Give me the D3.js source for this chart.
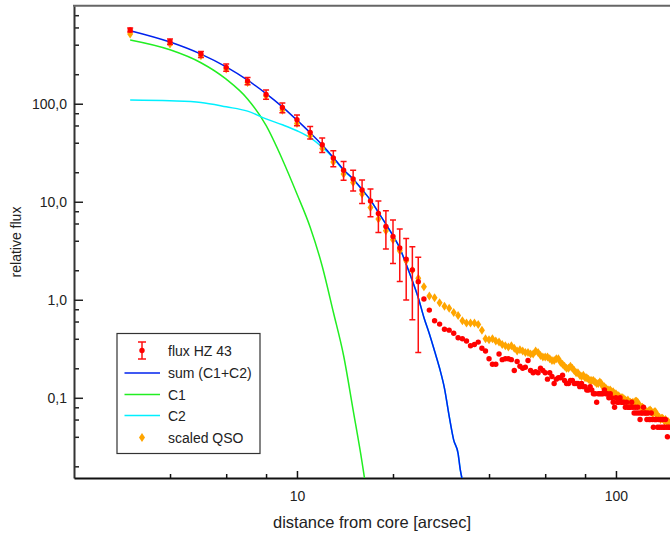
<!DOCTYPE html>
<html>
<head>
<meta charset="utf-8">
<script src="https://cdn.jsdelivr.net/npm/d3@7"></script>
<style>
    body { margin: 0; background: #fff; }
    svg { display: block; font-family: "Liberation Sans", Arial, sans-serif; }
    .axis text { font-size: 14px; fill: #222; }
</style>
</head>
<body>
<svg class="chart"></svg>
<script>
// radial profile, sampled every arcsec
const radius = [3, 4, 5, 6, 7, 8, 9, 10, 11, 12, 13, 14, 15, 16, 17, 18, 19, 20, 21, 22, 23, 24,
    25, 26, 27, 28, 29, 30, 31, 32, 33, 34, 35, 36, 37, 38, 39, 40, 41, 42, 43, 44, 45, 46, 47, 48, 49,
    50, 51, 52, 53, 54, 55, 56, 57, 58, 59, 60, 61, 62, 63, 64, 65, 66, 67, 68, 69, 70, 71, 72, 73, 74,
    75, 76, 77, 78, 79, 80, 81, 82, 83, 84, 85, 86, 87, 88, 89, 90, 91, 92, 93, 94, 95, 96, 97, 98, 99,
    100, 101, 102, 103, 104, 105, 106, 107, 108, 109, 110, 111, 112, 113, 114, 115, 116, 117, 118, 119,
    120, 121, 122, 123, 124, 125, 126, 127, 128, 129, 130, 131, 132, 133, 134, 135, 136, 137, 138, 139,
    140, 141, 142, 143, 144, 145, 146, 147];

const hzFlux = [565, 432, 321, 235, 171, 124, 91.7, 68.7, 50.9, 38.1, 27.9, 21.0, 17.1, 13.2, 10.2, 7.6, 5.6, 4.43, 3.37, 2.60, 2.02, 1.53,
    1.02, 0.785, 0.61, 0.565, 0.50, 0.49, 0.455, 0.41, 0.40, 0.38, 0.34, 0.35, 0.37, 0.32, 0.30, 0.25, 0.22, 0.22, 0.28, 0.245, 0.25, 0.25, 0.245, 0.19, 0.235,
    0.21, 0.20, 0.205, 0.24, 0.19, 0.18, 0.185, 0.18, 0.20, 0.19, 0.18, 0.155, 0.18, 0.165, 0.14, 0.155, 0.16, 0.16, 0.17, 0.15, 0.14, 0.14, 0.15, 0.15, 0.14,
    0.14, 0.14, 0.13, 0.14, 0.13, 0.13, 0.12, 0.12, 0.13, 0.12, 0.11, 0.11, 0.09, 0.11, 0.11, 0.11, 0.11, 0.12, 0.11, 0.11, 0.10, 0.11, 0.10, 0.09, 0.08,
    0.10, 0.09, 0.09, 0.10, 0.09, 0.09, 0.09, 0.08, 0.09, 0.08, 0.08, 0.08, 0.09, 0.08, 0.07, 0.08, 0.07, 0.08, 0.07, 0.06,
    0.07, 0.07, 0.08, 0.07, 0.07, 0.06, 0.07, 0.06, 0.06, 0.07, 0.06, 0.05, 0.06, 0.06, 0.06, 0.05, 0.06, 0.05, 0.06, 0.05,
    0.06, 0.05, 0.05, 0.06, 0.05, 0.04, 0.05, 0.05];

// error bars only for the inner 22 points (3..24 arcsec)
const hzErrLow = [540, 403, 297, 214, 156, 111, 80.9, 59.7, 43.6, 31.8, 22.7, 16.6, 12.9, 9.6, 7.03, 4.87, 3.29, 2.35, 1.54, 0.993, 0.625, 0.29];
const hzErrHigh = [592, 457, 342, 254, 185, 138, 101.7, 76.7, 58.6, 44.7, 33.1, 25.8, 21.0, 16.7, 13.5, 10.2, 8.09, 6.5, 5.26, 4.22, 3.48, 2.71];

const qsoFlux = [514, 406, 309, 226, 165, 120, 86, 63, 47, 35, 25.5, 19.2, 15.7, 12.0, 8.75, 6.66, 5.06, 4.09, 3.16, 2.5, 2.0, 1.66,
    1.36, 1.09, 1.05, 0.93, 0.86, 0.82, 0.74, 0.69, 0.61, 0.58, 0.58, 0.58, 0.56, 0.49, 0.40, 0.39, 0.40, 0.38, 0.37, 0.35, 0.34, 0.33, 0.34, 0.32, 0.30,
    0.31, 0.30, 0.29, 0.29, 0.28, 0.28, 0.30, 0.29, 0.27, 0.26, 0.26, 0.26, 0.25, 0.24, 0.24, 0.25, 0.25, 0.23, 0.22, 0.21, 0.20, 0.20, 0.21, 0.20, 0.19,
    0.18, 0.18, 0.17, 0.165, 0.17, 0.16, 0.16, 0.155, 0.15, 0.15, 0.15, 0.145, 0.14, 0.14, 0.145, 0.14, 0.13, 0.13, 0.125, 0.12, 0.12, 0.12, 0.115, 0.115, 0.11,
    0.11, 0.105, 0.105, 0.10, 0.10, 0.10, 0.097, 0.095, 0.093, 0.095, 0.09, 0.09, 0.088, 0.09, 0.086, 0.092, 0.092, 0.09, 0.085, 0.082,
    0.08, 0.08, 0.078, 0.075, 0.073, 0.072, 0.072, 0.074, 0.075, 0.073, 0.07, 0.07, 0.072, 0.072, 0.068, 0.066, 0.064, 0.063, 0.06, 0.062,
    0.062, 0.06, 0.058, 0.06, 0.058, 0.056, 0.057, 0.055];

// fitted components
const modelRadius = [3, 4, 5, 6, 7, 8, 9, 10, 11, 12, 13, 14, 15, 16, 17, 18, 19, 20, 21, 22, 23, 24, 25, 26, 27, 28, 29, 30, 31, 32, 32.5, 33];
const sumFlux = [556, 426, 321, 238, 174, 127, 93, 68, 50.6, 37.9, 28.3, 21.2, 17.1, 13.3, 10.4, 7.8, 5.9, 4.5, 3.37, 2.3, 1.56, 1.05, 0.66, 0.45, 0.30, 0.20, 0.125, 0.065, 0.037, 0.027, 0.0185, 0.0145];
const c1Radius = [3, 4, 5, 6, 7, 8, 9, 10, 11, 12, 13, 14, 15, 16, 16.4];
const c1Flux = [447, 355, 262, 178, 112, 60, 27, 12, 5.5, 2.2, 0.75, 0.27, 0.075, 0.022, 0.013];
const c2Flux = [109, 107, 103, 93, 84, 70, 61, 53, 45, 36, 28, 20.9, 17.0, 13.3, 10.4, 7.8, 5.9, 4.5, 3.37, 2.3, 1.56, 1.05, 0.66, 0.45, 0.30, 0.20, 0.125, 0.065, 0.037, 0.027, 0.0185, 0.0145];

const yMajorTicks = [0.1, 1, 10, 100];
const yMinorTicks = [0.02, 0.04, 0.06, 0.08, 0.2, 0.4, 0.6, 0.8, 2, 4, 6, 8, 20, 40, 60, 80, 200, 400, 600, 800];
const xMajorTicks = [10, 100];
const xMinorTicks = [4, 6, 8, 20, 40, 60, 80];

const legendLabels = ["flux HZ 43", "sum (C1+C2)", "C1", "C2", "scaled QSO"];

const canvas = {width: 670, height: 533};
const plot = {left: 74, right: 670, top: 5.7, bottom: 478};

const x = d3.scaleLog().domain([2, 147.7]).range([plot.left, plot.right]);
const y = d3.scaleLog().domain([0.0152, 1000]).range([plot.bottom, plot.top]);

const svg = d3.select(".chart")
    .attr("width", canvas.width)
    .attr("height", canvas.height);

svg.append("defs").append("clipPath").attr("id", "plotClip")
    .append("rect")
    .attr("x", plot.left).attr("y", plot.top)
    .attr("width", plot.right - plot.left)
    .attr("height", plot.bottom - plot.top);

const commaFmt = d => d3.format(".1f")(d).replace(".", ",");

// minor ticks first, majors on top
svg.append("g")
    .attr("class", "axis")
    .attr("transform", "translate(" + plot.left + ",0)")
    .call(d3.axisLeft(y).tickValues(yMinorTicks).tickSize(-5).tickFormat(""))
    .call(g => g.select(".domain").remove())
    .selectAll("line").attr("stroke", "#222").attr("stroke-width", 1.5);

svg.append("g")
    .attr("class", "axis")
    .attr("transform", "translate(" + plot.left + ",0)")
    .call(d3.axisLeft(y).tickValues(yMajorTicks).tickSizeInner(-9).tickSizeOuter(0).tickPadding(7).tickFormat(commaFmt))
    .call(g => g.select(".domain").attr("stroke", "#333").attr("stroke-width", 2))
    .selectAll("line").attr("stroke", "#222").attr("stroke-width", 1.5);

svg.append("g")
    .attr("class", "axis")
    .attr("transform", "translate(0," + plot.bottom + ")")
    .call(d3.axisBottom(x).tickValues(xMinorTicks).tickSize(-4).tickFormat(""))
    .call(g => g.select(".domain").remove())
    .selectAll("line").attr("stroke", "#111").attr("stroke-width", 1.5);

svg.append("g")
    .attr("class", "axis")
    .attr("transform", "translate(0," + plot.bottom + ")")
    .call(d3.axisBottom(x).tickValues(xMajorTicks).tickSizeInner(-7).tickSizeOuter(0).tickPadding(13).tickFormat(d3.format("d")))
    .call(g => g.select(".domain").attr("stroke", "#111").attr("stroke-width", 2))
    .selectAll("line").attr("stroke", "#111").attr("stroke-width", 1.5);

svg.append("line")
    .attr("x1", plot.left - 1).attr("x2", plot.right)
    .attr("y1", plot.top).attr("y2", plot.top)
    .attr("stroke", "#666").attr("stroke-width", 2);

// axis titles
svg.append("text")
    .attr("x", (plot.left + plot.right) / 2)
    .attr("y", 528)
    .style("text-anchor", "middle")
    .style("font-size", "16.5px")
    .attr("fill", "#222")
    .text("distance from core [arcsec]");

svg.append("text")
    .attr("transform", "translate(20.5," + 242 + "),rotate(-90)")
    .style("text-anchor", "middle")
    .style("font-size", "14px")
    .attr("fill", "#222")
    .text("relative flux");

const data = svg.append("g").attr("clip-path", "url(#plotClip)");

const lineOf = xs => d3.line().curve(d3.curveMonotoneX).x((d, i) => x(xs[i])).y(d => y(d));

data.append("path").datum(c1Flux)
    .attr("d", lineOf(c1Radius))
    .attr("fill", "none").attr("stroke", "#22ee22").attr("stroke-width", 1.5);

data.append("path").datum(c2Flux)
    .attr("d", lineOf(modelRadius))
    .attr("fill", "none").attr("stroke", "#00f0ff").attr("stroke-width", 1.5);

data.append("path").datum(sumFlux)
    .attr("d", lineOf(modelRadius))
    .attr("fill", "none").attr("stroke", "#0022ee").attr("stroke-width", 1.5);

const diamond = (cx, cy, hw, hh) =>
    "M" + cx + "," + (cy - hh) + "L" + (cx + hw) + "," + cy + "L" + cx + "," + (cy + hh) + "L" + (cx - hw) + "," + cy + "Z";

data.append("g").selectAll("path")
    .data(qsoFlux)
    .enter().append("path")
    .attr("d", (d, i) => diamond(x(radius[i]), y(d), 3, 4.5))
    .attr("fill", "#ffa500");

const errs = data.append("g")
    .attr("stroke", "#ff1010").attr("stroke-width", 1.5);

errs.selectAll(".bar")
    .data(hzErrLow)
    .enter().append("path")
    .attr("class", "bar")
    .attr("fill", "none")
    .attr("d", function (d, i) {
        const cx = x(radius[i]), y0 = y(d), y1 = y(hzErrHigh[i]);
        return "M" + (cx - 3) + "," + y1 + "H" + (cx + 3) +
            "M" + cx + "," + y1 + "V" + y0 +
            "M" + (cx - 3) + "," + y0 + "H" + (cx + 3);
    });

data.append("g").selectAll("circle")
    .data(hzFlux)
    .enter().append("circle")
    .attr("cx", (d, i) => x(radius[i]))
    .attr("cy", d => y(d))
    .attr("r", 2.7)
    .attr("fill", "#ff0000");

// legend
const legend = svg.append("g").attr("transform", "translate(117,333.5)");

legend.append("rect")
    .attr("width", 143).attr("height", 120)
    .attr("fill", "#fff").attr("stroke", "#333").attr("stroke-width", 1.2);

const rowY = [17, 39.5, 61, 82, 104];

legend.selectAll("text")
    .data(legendLabels)
    .enter().append("text")
    .attr("x", 51)
    .attr("y", (d, i) => rowY[i])
    .attr("dy", "0.36em")
    .style("font-size", "14px")
    .attr("fill", "#222")
    .text(d => d);

legend.append("path")
    .attr("d", "M21," + (rowY[0] - 8.5) + "H29M25," + (rowY[0] - 8.5) + "V" + (rowY[0] + 8.5) + "M21," + (rowY[0] + 8.5) + "H29")
    .attr("stroke", "#ff1010").attr("stroke-width", 1.5).attr("fill", "none");
legend.append("circle").attr("cx", 25).attr("cy", rowY[0]).attr("r", 2.7).attr("fill", "#ff0000");

const lineColors = ["#0022ee", "#22ee22", "#00f0ff"];
lineColors.forEach(function (c, i) {
    legend.append("line")
        .attr("x1", 7.5).attr("x2", 43)
        .attr("y1", rowY[i + 1]).attr("y2", rowY[i + 1])
        .attr("stroke", c).attr("stroke-width", 1.5);
});

legend.append("path")
    .attr("d", diamond(25, rowY[4], 3, 4.5))
    .attr("fill", "#ffa500");
</script>
</body>
</html>
